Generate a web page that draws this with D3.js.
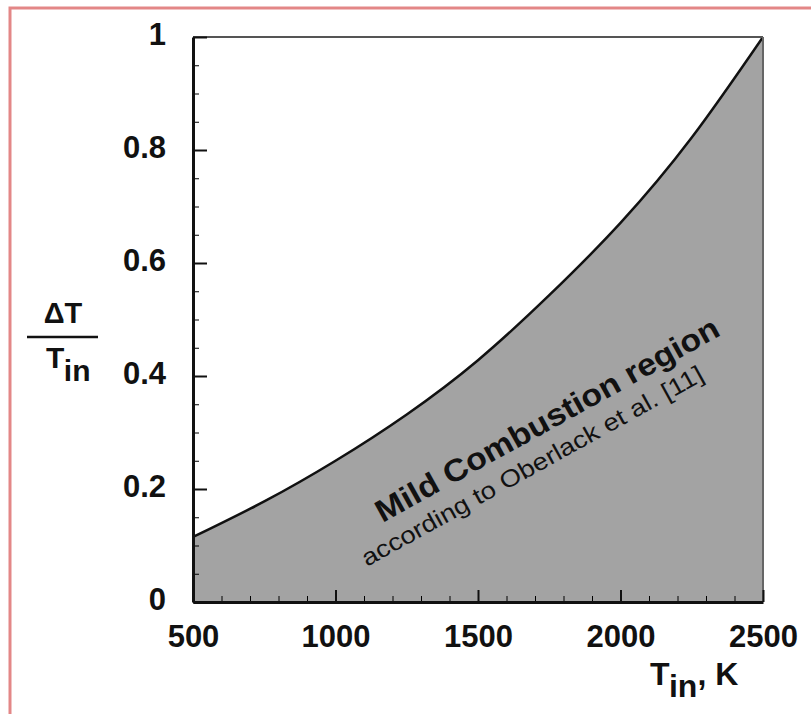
<!DOCTYPE html>
<html>
<head>
<meta charset="utf-8">
<script src="https://cdn.jsdelivr.net/npm/d3@7"></script>
<style>
  body { margin: 0; background: #fff; }
  svg { display: block; font-family: "Liberation Sans", Arial, Helvetica, sans-serif; }
</style>
</head>
<body>
<div id="chart"></div>
<script>
// inlet temperature (K) and boundary of the mild combustion region (dT / Tin)
var tIn = [500, 750, 1000, 1250, 1500, 1750, 2000, 2250, 2500];
var dTRatio = [0.115, 0.178, 0.25, 0.332, 0.428, 0.543, 0.671, 0.822, 1.0];

var xMajor = [500, 1000, 1500, 2000, 2500];
var xMinor = d3.range(500, 2501, 100);
var yMajor = [0, 0.2, 0.4, 0.6, 0.8, 1];
var yMinor = d3.range(0, 1.001, 0.05);

var W = 811, H = 714;
var margin = { top: 37, right: 48, bottom: 112, left: 193 };
var width = W - margin.left - margin.right;
var height = H - margin.top - margin.bottom;

var svg = d3.select('#chart').append('svg').attr('width', W).attr('height', H);

// pinkish frame round the figure
svg.append('rect')
  .attr('x', 10).attr('y', 8).attr('width', 900).attr('height', 800)
  .attr('fill', 'none').attr('stroke', '#e38787').attr('stroke-width', 3);

var g = svg.append('g').attr('transform', 'translate(' + margin.left + ',' + margin.top + ')');

var x = d3.scaleLinear().domain([500, 2500]).range([0, width]);
var y = d3.scaleLinear().domain([0, 1]).range([height, 0]);

var pts = tIn.map(function(t, i) { return [t, dTRatio[i]]; });

// shaded region under the curve
g.append('path')
  .datum(pts)
  .attr('fill', '#a3a3a3')
  .attr('d', d3.area().curve(d3.curveNatural)
    .x(function(d) { return x(d[0]); })
    .y0(y(0))
    .y1(function(d) { return y(d[1]); }));

g.append('path')
  .datum(pts)
  .attr('fill', 'none')
  .attr('stroke', '#111')
  .attr('stroke-width', 2.5)
  .attr('d', d3.line().curve(d3.curveNatural)
    .x(function(d) { return x(d[0]); })
    .y(function(d) { return y(d[1]); }));

// top / right frame, thin and grey
g.append('line').attr('x1', 0).attr('x2', width).attr('y1', 0).attr('y2', 0)
  .attr('stroke', '#555').attr('stroke-width', 2);
g.append('line').attr('x1', width).attr('x2', width).attr('y1', 0).attr('y2', height)
  .attr('stroke', '#666').attr('stroke-width', 2);

// minor ticks
g.append('g').attr('transform', 'translate(0,' + height + ')')
  .call(d3.axisBottom(x).tickValues(xMinor).tickSize(-6).tickFormat(''))
  .call(function(a) { a.select('.domain').remove(); });
g.append('g')
  .call(d3.axisLeft(y).tickValues(yMinor).tickSize(-6).tickFormat(''))
  .call(function(a) { a.select('.domain').remove(); });

// major ticks with labels
var xAxis = g.append('g').attr('transform', 'translate(0,' + height + ')')
  .call(d3.axisBottom(x).tickValues(xMajor).tickSize(-12).tickSizeOuter(0).tickPadding(23)
    .tickFormat(d3.format('d')));
var yAxis = g.append('g')
  .call(d3.axisLeft(y).tickValues(yMajor).tickSize(-14).tickSizeOuter(0).tickPadding(27)
    .tickFormat(function(d) { return d === 0 || d === 1 ? String(d) : d3.format('.1f')(d); }));

[xAxis, yAxis].forEach(function(a) {
  a.selectAll('.tick line').attr('stroke', '#111').attr('stroke-width', 2);
  a.select('.domain').attr('stroke', '#111').attr('stroke-width', 3);
  a.selectAll('text').attr('fill', '#111').attr('font-size', 31).attr('font-weight', 'bold');
});
yAxis.selectAll('text').attr('dy', '0.23em');

// region label
var lx = x(1165), ly = y(0.14), ang = -29;
var lab = g.append('g').attr('transform', 'translate(' + lx + ',' + ly + ') rotate(' + ang + ')');
lab.append('text')
  .attr('font-size', 31).attr('font-weight', 'bold').attr('fill', '#111')
  .attr('textLength', 388).attr('lengthAdjust', 'spacingAndGlyphs')
  .text('Mild Combustion region');
lab.append('text')
  .attr('x', -35).attr('y', 31)
  .attr('font-size', 24).attr('fill', '#111')
  .attr('textLength', 387).attr('lengthAdjust', 'spacingAndGlyphs')
  .text('according to Oberlack et al. [11]');

// x title  T_in, K
var xt = svg.append('text')
  .attr('x', 650).attr('y', 685)
  .attr('font-size', 32).attr('font-weight', 'bold').attr('fill', '#111');
xt.append('tspan').text('T');
xt.append('tspan').attr('dy', 12).text('in');
xt.append('tspan').attr('dy', -12).text(', K');

// y title  dT / T_in as a fraction
svg.append('text')
  .attr('x', 63).attr('y', 323).attr('text-anchor', 'middle')
  .attr('font-size', 29).attr('font-weight', 'bold').attr('fill', '#111')
  .text('\u0394T');
svg.append('line')
  .attr('x1', 27).attr('x2', 98).attr('y1', 337).attr('y2', 337)
  .attr('stroke', '#111').attr('stroke-width', 2.5);
var yt = svg.append('text')
  .attr('x', 46).attr('y', 368)
  .attr('font-size', 30).attr('font-weight', 'bold').attr('fill', '#111');
yt.append('tspan').text('T');
yt.append('tspan').attr('dy', 13).text('in');
</script>
</body>
</html>
